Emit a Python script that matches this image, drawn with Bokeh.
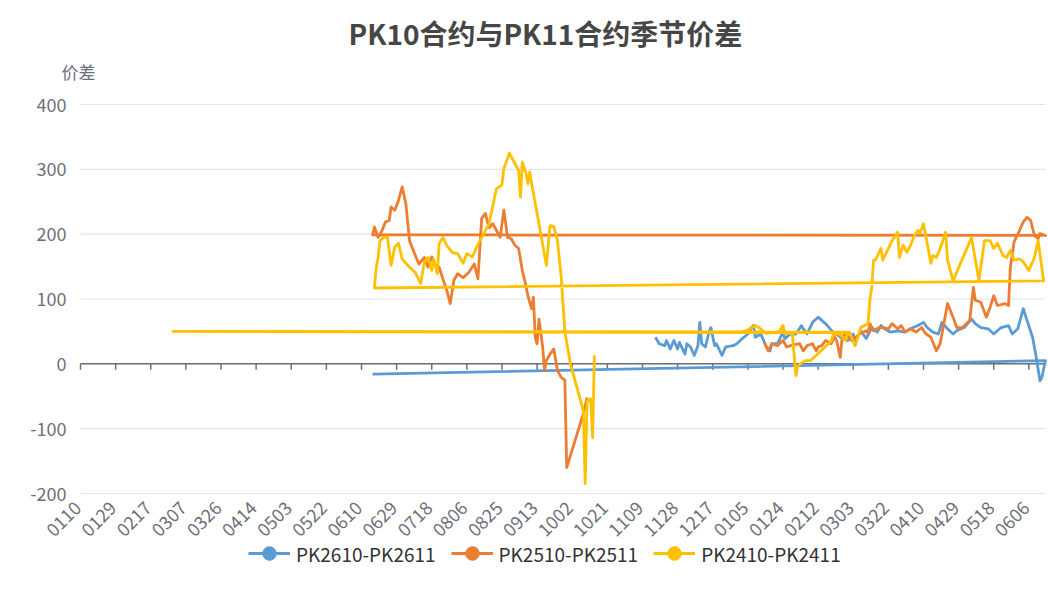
import math
import numpy as np
import pandas as pd
from bokeh.plotting import figure
from bokeh.models import Range1d, Legend, LegendItem
from bokeh.core.properties import value
from bokeh.embed import file_html
from bokeh.resources import INLINE

# ---------------- data ----------------
# category axis: every calendar day shown on the chart (MMDD labels)
categories = [d.strftime("%m%d") for d in pd.date_range("2024-01-10", "2025-06-15", freq="D")]
label_every = 19

series_names = ["PK2610-PK2611", "PK2510-PK2511", "PK2410-PK2411"]
series_colors = ["#5B9BD5", "#ED7D31", "#FFC000"]

pk2610_dates = ["1116", "1118", "1121", "1122", "1124", "1126", "1128", "1129", "1202", "1203",
                "1205", "1207", "1209", "1210", "1211", "1213", "1215", "1216", "1218", "1219",
                "1222", "1224", "1228", "1230", "0102", "0105", "0107", "0108", "0109", "0112",
                "0115", "0117", "0118", "0121", "0124", "0125", "0128", "0131", "0203", "0204",
                "0206", "0209", "0212", "0214", "0217", "0220", "0222", "0224", "0228", "0303",
                "0304", "0307", "0310", "0313", "0316", "0318", "0320", "0323", "0327", "0331",
                "0403", "0407", "0410", "0412", "0415", "0418", "0420", "0423", "0426", "0428",
                "0502", "0506", "0508", "0511", "0515", "0518", "0522", "0526", "0528", "0531",
                "0603", "0605", "0608", "0610", "0612", "0613", "0615", "0616"]
pk2610_vals = [41, 31, 28, 36, 23, 36, 23, 33, 15, 31,
               26, 13, 28, 64, 31, 26, 49, 56, 28, 31,
               13, 26, 28, 31, 39, 46, 56, 59, 41, 46,
               26, 20, 31, 31, 49, 39, 46, 46, 59, 54,
               46, 64, 72, 67, 59, 49, 46, 41, 36, 46,
               33, 51, 39, 56, 49, 59, 54, 49, 51, 49,
               54, 59, 64, 56, 49, 46, 64, 54, 46, 51,
               56, 69, 62, 56, 54, 46, 56, 59, 46, 54,
               85, 67, 41, 10, -26, -21, 5, -16]

pk2510_dates = ["0114", "0116", "0118", "0121", "0124", "0126", "0128", "0202", "0204", "0206",
                "0209", "0211", "0212", "0214", "0216", "0219", "0221", "0222", "0224", "0225",
                "0227", "0302", "0307", "0310", "0311", "0312", "0314", "0317", "0319", "0322",
                "0324", "0327", "0329", "0331", "0403", "0406", "0409", "0411", "0414", "0417",
                "0419", "0421", "0423", "0426", "0428", "0501", "0505", "0507", "0508", "0511",
                "0514", "0516", "0518", "0520", "0524", "0526", "0527", "0529", "0601", "0603",
                "0605", "0607", "0609", "0611", "0612", "0615",
                "0616", "0617", "0619", "0621", "0623", "0625", "0626", "0628", "0630", "0702",
                "0704", "0706", "0708", "0711", "0714", "0716", "0718", "0720", "0722", "0724",
                "0726", "0728", "0730", "0801", "0804", "0807", "0810", "0812", "0814", "0816",
                "0818", "0820", "0822", "0824", "0826", "0828", "0830", "0901", "0903", "0905",
                "0907", "0908", "0910", "0911", "0912", "0913", "0914", "0916", "0917", "0918",
                "0920", "0922", "0924", "0926", "0928", "0929", "1008", "1010"]
pk2510_vals = [33, 20, 31, 28, 36, 26, 28, 31, 20, 28,
               31, 20, 26, 28, 36, 31, 41, 36, 10, 41,
               47, 36, 47, 51, 47, 62, 51, 56, 56, 54,
               62, 54, 59, 49, 54, 49, 56, 47, 41, 20,
               31, 62, 93, 72, 56, 56, 67, 118, 98, 95,
               72, 87, 105, 90, 93, 90, 149, 188, 206, 219,
               226, 221, 198, 193, 201, 198,
               199, 211, 195, 205, 219, 221, 242, 237, 252, 273,
               247, 190, 175, 154, 164, 149, 165, 152, 149, 131,
               115, 93, 129, 139, 133, 141, 154, 131, 224, 232,
               210, 216, 206, 195, 237, 195, 193, 183, 178, 144,
               120, 105, 85, 103, 40, 31, 69, 26, -10, 5,
               15, 23, -10, -21, -25, -160, -77, -52]

pk2410_dates = ["0102", "0104", "0109", "0111", "0115", "0119", "0122", "0124", "0125", "0129",
                "0131", "0201", "0205", "0208", "0219", "0220", "0223", "0227", "0228", "0229",
                "0301", "0304", "0305", "0307", "0311", "0312", "0313", "0314", "0315", "0318",
                "0319", "0321", "0324", "0327", "0328", "0330", "0401", "0403", "0405", "0407",
                "0408", "0410", "0412", "0414", "0415", "0417", "0419", "0422", "0423", "0426",
                "0506", "0510", "0513", "0516", "0518", "0520", "0523", "0525", "0527", "0529",
                "0601", "0603", "0606", "0609", "0611", "0614",
                "0617", "0618", "0619", "0620", "0622", "0624", "0626", "0628", "0630", "0702",
                "0705", "0709", "0712", "0714", "0716", "0718", "0719", "0721", "0722", "0724",
                "0726", "0729", "0801", "0804", "0806", "0809", "0811", "0814", "0818", "0822",
                "0825", "0826", "0829", "0901", "0903", "0904", "0905", "0907", "0908", "0909",
                "0910", "0914", "0918", "0920", "0922", "0924", "0926", "0928", "1001", "1008",
                "1009", "1010", "1012", "1013", "1014"]
pk2410_vals = [50, 51, 59, 56, 47, 48, 50, 59, 47, 47,
               -18, -3, 5, 5, 35, 44, 47, 36, 48, 50,
               49, 28, 36, 56, 62, 98, 118, 160, 160, 178,
               160, 172, 190, 203, 164, 183, 172, 183, 198, 206,
               201, 216, 186, 155, 167, 164, 178, 203, 160, 128,
               195, 128, 190, 190, 178, 186, 167, 164, 175, 160,
               162, 157, 144, 164, 190, 128,
               117, 149, 164, 190, 195, 196, 152, 180, 186, 162,
               152, 141, 124, 157, 164, 144, 162, 139, 185, 195,
               183, 172, 170, 155, 170, 165, 178, 195, 216, 270,
               276, 301, 325, 309, 298, 257, 311, 294, 278, 296,
               278, 216, 152, 213, 212, 190, 135, 50, 0, -72,
               -185, -57, -54, -114, 13]

y_ticks = [-200, -100, 0, 100, 200, 300, 400]
y_name = "价差"
title_text = "PK10合约与PK11合约季节价差"

# ---------------- chart ----------------
# a MMDD name maps to its (last) slot on the category axis
slot = {}
for i, c in enumerate(categories):
    slot[c] = i
n_cat = len(categories)

W, H = 1047, 600
GRID_L, GRID_T, GRID_W, GRID_H = 80, 104, 965, 389   # value grid area, in pixels
FRAME_T = 60                                           # frame starts just above the y-axis name
px_per_unit = GRID_H / (y_ticks[-1] - y_ticks[0])
px_per_cat = GRID_W / (n_cat - 1)
x_start = -GRID_L / px_per_cat
x_end = (n_cat - 1) + (W - GRID_L - GRID_W) / px_per_cat
y_top = y_ticks[-1] + (GRID_T - FRAME_T) / px_per_unit
y_bottom = y_ticks[0] - (H - GRID_T - GRID_H) / px_per_unit

FONT = "Noto Sans CJK SC"
AXIS_COLOR = "#6E7079"
GRID_COLOR = "#E0E6F1"

p = figure(width=W, height=H, output_backend="svg", toolbar_location=None,
           x_axis_location=None, y_axis_location=None,
           x_range=Range1d(x_start, x_end), y_range=Range1d(y_bottom, y_top),
           min_border_left=0, min_border_right=0, min_border_top=FRAME_T, min_border_bottom=0)
p.outline_line_color = None
p.background_fill_color = "white"
p.border_fill_color = "white"
p.xgrid.visible = False
p.ygrid.visible = False

p.title.text = title_text
p.title.align = "left"
p.title.offset = 348
p.title.text_font = FONT
p.title.text_font_size = "28px"
p.title.text_font_style = "bold"
p.title.text_color = "#464646"
p.title.standoff = 15

# value axis: grid lines, labels, name
p.segment(x0=[0] * len(y_ticks), x1=[n_cat - 1] * len(y_ticks), y0=y_ticks, y1=y_ticks,
          line_color=GRID_COLOR, line_width=1.2)
p.text(x=[0] * len(y_ticks), y=y_ticks, text=[str(t) for t in y_ticks],
       text_align="right", text_baseline="middle", x_offset=-14,
       text_font=value(FONT), text_font_size="18px", text_color=AXIS_COLOR)
p.text(x=[0], y=[y_ticks[-1]], text=[y_name], text_align="center", text_baseline="middle",
       x_offset=-2, y_offset=-33, text_font=value(FONT), text_font_size="17px",
       text_color=AXIS_COLOR)

# category axis: line on zero with ticks, labels under the grid rotated 45 degrees
label_idx = list(range(0, n_cat, label_every))
tick_labels = [categories[i] for i in label_idx]
p.segment(x0=[0], x1=[n_cat - 1], y0=[0], y1=[0], line_color=AXIS_COLOR, line_width=1.5)
tick_len = 6 / px_per_unit
p.segment(x0=label_idx, y0=[0] * len(label_idx), x1=label_idx, y1=[-tick_len] * len(label_idx),
          line_color=AXIS_COLOR, line_width=1.5)
p.text(x=label_idx, y=[y_ticks[0]] * len(label_idx), text=tick_labels,
       angle=math.pi / 4, text_align="right", text_baseline="middle",
       x_offset=-3, y_offset=11, text_font=value(FONT), text_font_size="18px",
       text_color=AXIS_COLOR)

items = []
for name, color, dates, vals in [
    (series_names[0], series_colors[0], pk2610_dates, pk2610_vals),
    (series_names[1], series_colors[1], pk2510_dates, pk2510_vals),
    (series_names[2], series_colors[2], pk2410_dates, pk2410_vals),
]:
    xs = [slot[d] for d in dates]
    r = p.line(xs, vals, line_color=color, line_width=2.8, line_join="round")
    dot = p.scatter([np.nan], [np.nan], size=15, marker="circle", fill_color=color, line_color=color)
    items.append(LegendItem(label=name, renderers=[r, dot]))

legend = Legend(items=items, orientation="horizontal", location=(248, 30),
                glyph_width=42, glyph_height=34, label_height=24, label_standoff=6, spacing=15,
                padding=0, margin=0, border_line_color=None, background_fill_alpha=0,
                label_text_font=FONT, label_text_font_size="19px", label_text_color="#333333",
                label_text_baseline="middle")
p.add_layout(legend, "center")

open("out.html", "w").write(file_html(p, INLINE))
